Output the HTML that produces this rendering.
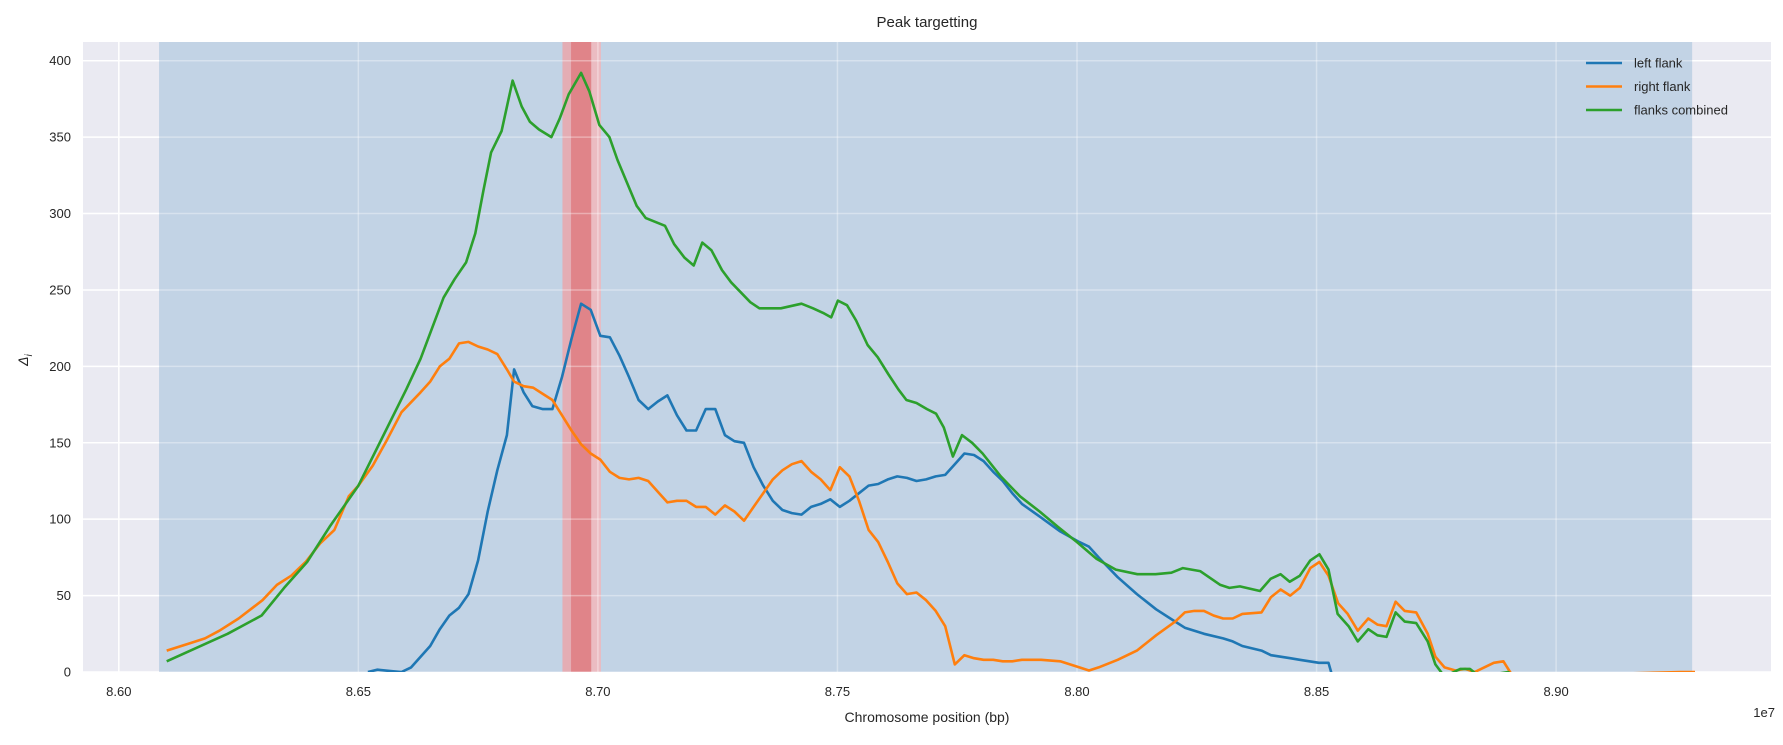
<!DOCTYPE html>
<html><head><meta charset="utf-8"><style>
body{margin:0;background:#fff;}
svg text{font-family:"Liberation Sans",sans-serif;fill:#262626;}
</style></head><body>
<svg id="chart" width="1783" height="740" xmlns="http://www.w3.org/2000/svg">
<rect x="83" y="42" width="1688" height="630" fill="#eaeaf2"/>
<g id="grid"></g>
<g id="bands"></g>
<g id="grid2"></g>
<defs><clipPath id="clip"><rect x="83" y="42" width="1688" height="630"/></clipPath></defs>
<g id="lines" clip-path="url(#clip)"></g>
<g id="ticks"></g>
<text x="927" y="27" font-size="15" text-anchor="middle">Peak targetting</text>
<text x="927" y="722" font-size="14" text-anchor="middle">Chromosome position (bp)</text>
<text x="1775" y="717" font-size="13" text-anchor="end">1e7</text>
<text transform="translate(28,360) rotate(-90)" font-size="14" text-anchor="middle" font-style="italic">Δ<tspan font-size="10" dy="4">i</tspan></text>
<g id="legend"></g>
</svg>
<script>
const xTicks=[8.60,8.65,8.70,8.75,8.80,8.85,8.90];
const xTickLabels=["8.60","8.65","8.70","8.75","8.80","8.85","8.90"];
const yTicks=[0,50,100,150,200,250,300,350,400];
const blueBand=[8.6084,8.9284];
const redBandOuter=[8.6926,8.7006];
const redBandInner=[8.6944,8.6986];
const leftX=[8.6520,8.6540,8.6570,8.6590,8.6610,8.6630,8.6650,8.6670,8.6690,8.6710,8.6730,8.6750,8.6770,8.6790,8.6810,8.6825,8.6845,8.6863,8.6885,8.6905,8.6925,8.6945,8.6965,8.6985,8.7005,8.7025,8.7045,8.7065,8.7085,8.7105,8.7125,8.7145,8.7165,8.7185,8.7205,8.7225,8.7245,8.7265,8.7285,8.7305,8.7325,8.7345,8.7365,8.7385,8.7405,8.7425,8.7445,8.7465,8.7485,8.7505,8.7525,8.7545,8.7565,8.7585,8.7605,8.7625,8.7645,8.7665,8.7685,8.7705,8.7725,8.7745,8.7765,8.7785,8.7805,8.7825,8.7845,8.7865,8.7885,8.7925,8.7965,8.8005,8.8025,8.8045,8.8085,8.8125,8.8165,8.8205,8.8225,8.8265,8.8305,8.8325,8.8345,8.8385,8.8405,8.8425,8.8445,8.8465,8.8485,8.8505,8.8525,8.8535];
const leftY=[0,1.5,0.5,0,3,10,17,28,37,42,51,73,105,132,155,198,183,174,172,172,193,218,241,237,220,219,207,193,178,172,177,181,168,158,158,172,172,155,151,150,134,122,112,106,104,103,108,110,113,108,112,117,122,123,126,128,127,125,126,128,129,136,143,142,138,131,125,117,110,101,92,85,82,75,62,51,41,33,29,25,22,20,17,14,11,10,9,8,7,6,6,-5];
const rightX=[8.6100,8.6150,8.6180,8.6210,8.6250,8.6300,8.6330,8.6360,8.6390,8.6420,8.6450,8.6480,8.6500,8.6530,8.6560,8.6590,8.6630,8.6650,8.6670,8.6690,8.6710,8.6730,8.6750,8.6770,8.6790,8.6810,8.6825,8.6845,8.6865,8.6885,8.6905,8.6925,8.6945,8.6965,8.6985,8.7005,8.7025,8.7045,8.7065,8.7085,8.7105,8.7125,8.7145,8.7165,8.7185,8.7205,8.7225,8.7245,8.7265,8.7285,8.7305,8.7325,8.7345,8.7365,8.7385,8.7405,8.7425,8.7445,8.7465,8.7485,8.7505,8.7525,8.7545,8.7565,8.7585,8.7605,8.7625,8.7645,8.7665,8.7685,8.7705,8.7725,8.7745,8.7765,8.7785,8.7805,8.7825,8.7845,8.7865,8.7885,8.7925,8.7965,8.8005,8.8025,8.8045,8.8085,8.8125,8.8165,8.8205,8.8225,8.8245,8.8265,8.8285,8.8305,8.8325,8.8345,8.8385,8.8405,8.8425,8.8445,8.8465,8.8487,8.8506,8.8525,8.8545,8.8565,8.8586,8.8608,8.8627,8.8646,8.8665,8.8684,8.8708,8.8732,8.8748,8.8767,8.8790,8.8810,8.8830,8.8850,8.8870,8.8890,8.8910,8.9260,8.9290];
const rightY=[14,19,22,27,35,47,57,63,72,84,93,115,122,135,152,170,183,190,200,205,215,216,213,211,208,198,190,187,186,182,178,168,158,149,143,139,131,127,126,127,125,118,111,112,112,108,108,103,109,105,99,108,117,126,132,136,138,131,126,119,134,128,112,93,85,72,58,51,52,47,40,30,5,11,9,8,8,7,7,8,8,7,3,1,3,8,14,24,33,39,40,40,37,35,35,38,39,49,54,50,55,68,72,63,45,38,27,35,31,30,46,40,39,25,10,3,1,2,0,3,6,7,-3,0,0];
const combX=[8.6100,8.6227,8.6298,8.6345,8.6393,8.6440,8.6500,8.6600,8.6630,8.6654,8.6678,8.6701,8.6725,8.6744,8.6761,8.6777,8.6799,8.6822,8.6841,8.6858,8.6877,8.6903,8.6920,8.6939,8.6965,8.6982,8.7003,8.7024,8.7041,8.7081,8.7100,8.7140,8.7159,8.7181,8.7200,8.7218,8.7237,8.7259,8.7278,8.7318,8.7337,8.7382,8.7425,8.7449,8.7470,8.7487,8.7501,8.7520,8.7539,8.7563,8.7584,8.7606,8.7627,8.7644,8.7665,8.7687,8.7706,8.7722,8.7741,8.7760,8.7781,8.7803,8.7841,8.7881,8.7922,8.7960,8.8000,8.8041,8.8081,8.8126,8.8164,8.8197,8.8221,8.8257,8.8299,8.8318,8.8340,8.8382,8.8404,8.8425,8.8444,8.8465,8.8487,8.8506,8.8525,8.8544,8.8567,8.8586,8.8608,8.8627,8.8646,8.8665,8.8684,8.8708,8.8732,8.8748,8.8767,8.8800,8.8820,8.8840,8.8900,8.8920];
const combY=[7,25,37,55,72,95,122,185,205,225,245,257,268,287,315,340,354,387,370,360,355,350,362,378,392,380,358,350,335,305,297,292,280,271,266,281,276,263,255,242,238,238,241,238,235,232,243,240,230,214,206,195,185,178,176,172,169,160,141,155,150,143,128,115,105,95,85,74,67,64,64,65,68,66,57,55,56,53,61,64,59,63,73,77,67,38,30,20,28,24,23,39,33,32,20,5,-3,2,2,-3,0,-5];
const legendLabels=["left flank","right flank","flanks combined"];
const colors=["#1f77b4","#ff7f0e","#2ca02c"];

const L=83,R=1771,T=42,B=672;
const sx=v=>118.8+(v-8.60)*4791;
const sy=v=>B-(v-0)*(B-60.7)/400;
const NS="http://www.w3.org/2000/svg";
function mk(tag,attrs,parent){const e=document.createElementNS(NS,tag);for(const k in attrs)e.setAttribute(k,attrs[k]);parent.appendChild(e);return e;}
const grid=document.getElementById('grid'),grid2=document.getElementById('grid2'),bands=document.getElementById('bands'),lines=document.getElementById('lines'),ticks=document.getElementById('ticks'),legend=document.getElementById('legend');
xTicks.forEach((v,i)=>{
  const g=mk('line',{x1:sx(v),x2:sx(v),y1:T,y2:B,stroke:'#fff','stroke-width':1.5},grid);
  
  
  const g2=mk('line',{x1:sx(v),x2:sx(v),y1:T,y2:B,stroke:'#fff','stroke-width':1.5,'stroke-opacity':0.35},grid2);
  
  
  const t=mk('text',{x:sx(v),y:696,'font-size':13,'text-anchor':'middle'},ticks);t.textContent=xTickLabels[i];
  
  
});
yTicks.forEach(v=>{
  const g=mk('line',{x1:L,x2:R,y1:sy(v),y2:sy(v),stroke:'#fff','stroke-width':1.5},grid);
  
  
  const g2=mk('line',{x1:L,x2:R,y1:sy(v),y2:sy(v),stroke:'#fff','stroke-width':1.5,'stroke-opacity':0.35},grid2);
  
  
  const t=mk('text',{x:71,y:sy(v)+4.5,'font-size':13,'text-anchor':'end'},ticks);t.textContent=String(v);
  
  
});
const bb=mk('rect',{x:sx(blueBand[0]),y:T,width:sx(blueBand[1])-sx(blueBand[0]),height:B-T,fill:'#c2d3e5'},bands);


const ro=mk('rect',{x:sx(redBandOuter[0]),y:T,width:sx(redBandOuter[1])-sx(redBandOuter[0]),height:B-T,fill:'#e4adb4'},bands);


const rr=mk('rect',{x:sx(redBandInner[1]),y:T,width:sx(redBandOuter[1])-sx(redBandInner[1]),height:B-T,fill:'#ebbcc2'},bands);


const ri=mk('rect',{x:sx(redBandInner[0]),y:T,width:sx(redBandInner[1])-sx(redBandInner[0]),height:B-T,fill:'#e08489'},bands);


const series=[[leftX,leftY,'left-flank-line'],[rightX,rightY,'right-flank-line'],[combX,combY,'flanks-combined-line']];
series.forEach((s,k)=>{
  const d=s[0].map((x,i)=>(i?'L':'M')+sx(x).toFixed(1)+','+sy(s[1][i]).toFixed(1)).join('');
  const p=mk('path',{d:d,fill:'none',stroke:colors[k],'stroke-width':2.6,'stroke-linejoin':'round'},lines);
  
  
});
legendLabels.forEach((lab,i)=>{
  const y=63+i*23.5;
  const l=mk('line',{x1:1586,x2:1622,y1:y,y2:y,stroke:colors[i],'stroke-width':2.6},legend);
  
  
  const t=mk('text',{x:1634,y:y+4.5,'font-size':13},legend);t.textContent=lab;
  
  
});
</script>
</body></html>
